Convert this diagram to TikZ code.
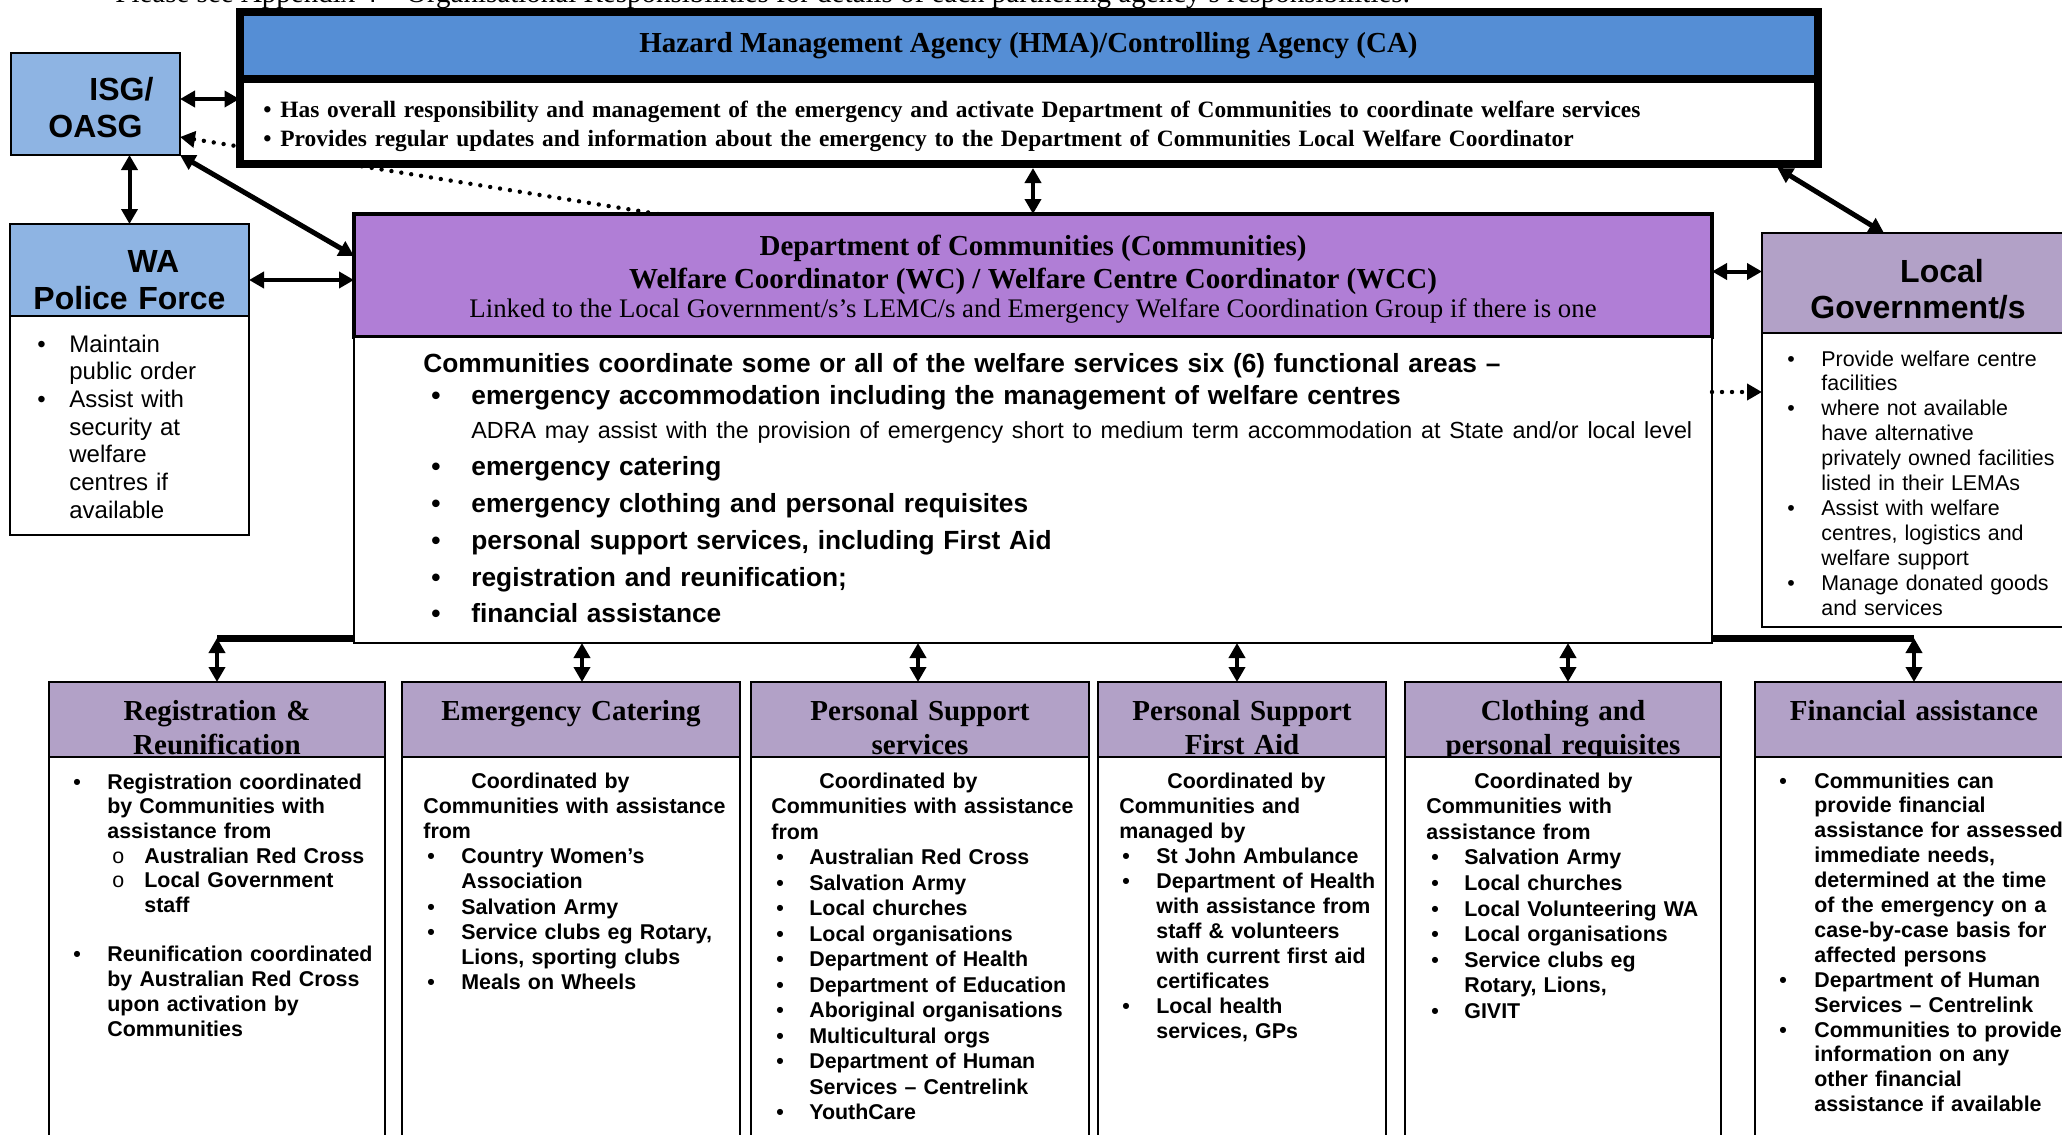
\documentclass[tikz,border=0pt]{standalone}
\usepackage{fontspec}
\setmainfont{Liberation Serif}
\setsansfont{Liberation Sans}
\usetikzlibrary{arrows.meta, positioning, calc, backgrounds}

\definecolor{hmablue}{RGB}{85,142,213}
\definecolor{isgblue}{RGB}{142,180,227}
\definecolor{commpurple}{RGB}{176,126,214}
\definecolor{lilac}{RGB}{178,161,199}

% bullet lists with a hanging indent
\newlength\bulin
\newlength\bulhang
\newcommand{\bul}[1]{\hangindent=\bulhang\hangafter=1\noindent\hspace*{\bulin}\makebox[\dimexpr\bulhang-\bulin\relax][l]{\textbullet}#1\par}
\newcommand{\subbul}[1]{\hangindent=35.5pt\hangafter=1\noindent\hspace*{19.5pt}\makebox[16pt][l]{\mdseries o}#1\par}

\tikzset{
    box/.style={rectangle, draw, line width=1pt, outer sep=0pt, inner sep=0pt, anchor=north west},
    headbox/.style={box, fill=lilac},
    bodybox/.style={box, fill=white},
    headtext/.style={anchor=base, inner sep=0pt, text width=200pt, align=center, font=\rmfamily\bfseries\fontsize{14.5}{17}\selectfont},
    sanshead/.style={anchor=base, inner sep=0pt, text width=200pt, align=center, font=\sffamily\bfseries\fontsize{16}{18.5}\selectfont},
    listtext/.style={anchor=base west, inner sep=0pt, text width=220pt},
    bodytext/.style={font=\sffamily\bfseries\fontsize{10.7}{#1}\selectfont},
    bullets/.style 2 args={execute at begin node={\setlength\bulin{#1}\setlength\bulhang{#2}}},
    dbl/.style={<->, >={Triangle[length=7.5pt,width=8pt]}, line width=2pt},
    dotarrow/.style={->, >={Triangle[length=7.5pt,width=8pt]}, line width=2.2pt, dash pattern=on 0pt off 5pt, line cap=round},
    busline/.style={line width=3.5pt}
}

\begin{document}
\begin{tikzpicture}[x=0.5pt, y=-0.5pt, font=\sffamily]
    \useasboundingbox (0,0) rectangle (2062,1135);

    % Line of text cut by the top edge
    \node (note) [anchor=base west, inner sep=0pt, font=\rmfamily\fontsize{14.5}{16}\selectfont] at (115,3) {Please see Appendix 4 – Organisational Responsibilities for details of each partnering agency’s responsibilities.};

    % Hazard Management Agency
    \node (hmahead) [box, line width=4pt, fill=hmablue, minimum width=789pt, minimum height=33.5pt, font=\rmfamily\bfseries\fontsize{14.5}{17}\selectfont] at (239.5,12) {Hazard Management Agency (HMA)/Controlling Agency (CA)};
    \node (hmabody) [box, line width=4pt, fill=white, minimum width=789pt, minimum height=42.5pt] at (hmahead.south west) {};
    \node (hmalist) [listtext, text width=800pt, bullets={0pt}{8.5pt}, font=\rmfamily\bfseries\fontsize{11.7}{14.5}\selectfont] at (263,117) {%
        \bul{Has overall responsibility and management of the emergency and activate Department of Communities to coordinate welfare services}%
        \bul{Provides regular updates and information about the emergency to the Department of Communities Local Welfare Coordinator}};

    % ISG/OASG
    \node (isg) [box, fill=isgblue, minimum width=84.5pt, minimum height=51pt] at (11,53) {};
    \node (isgtext) [sanshead] at ($(isg.north)+(0,47)$) {\hspace*{26pt}ISG/\\OASG};

    % WA Police Force
    \node (polhead) [box, fill=isgblue, minimum width=119.5pt, minimum height=46pt] at (10,224) {};
    \node (poltext) [sanshead] at ($(polhead.north)+(0,48)$) {\hspace*{24pt}WA\\Police Force};
    \node (polbody) [bodybox, minimum width=119.5pt, minimum height=109.5pt] at (polhead.south west) {};
    \node (pollist) [listtext, bullets={0pt}{16pt}, font=\sffamily\fontsize{12}{13.85}\selectfont] at (37,352) {%
        \bul{Maintain\newline public order}%
        \bul{Assist with\newline security at\newline welfare\newline centres if\newline available}};

    % Department of Communities
    \node (commhead) [box, line width=2pt, fill=commpurple, minimum width=679pt, minimum height=61.5pt] at (354,214) {};
    \node (commt1) [anchor=base, inner sep=0pt, font=\rmfamily\bfseries\fontsize{14.5}{17}\selectfont] at ($(commhead.north)+(0,41)$) {Department of Communities (Communities)};
    \node (commt2) [anchor=base, inner sep=0pt, font=\rmfamily\bfseries\fontsize{14.5}{17}\selectfont] at ($(commhead.north)+(0,74)$) {Welfare Coordinator (WC) / Welfare Centre Coordinator (WCC)};
    \node (commt3) [anchor=base, inner sep=0pt, font=\rmfamily\fontsize{13.4}{15}\selectfont] at ($(commhead.north)+(0,103)$) {Linked to the Local Government/s’s LEMC/s and Emergency Welfare Coordination Group if there is one};
    \node (commbody) [bodybox, line width=1.2pt, minimum width=679pt, minimum height=153pt] at (commhead.south west) {};
    \node (commlist) [listtext, text width=680pt, bullets={4pt}{24pt}, font=\sffamily\bfseries\fontsize{13.15}{18.4}\selectfont] at (423,372) {%
        Communities coordinate some or all of the welfare services six (6) functional areas –\par\vspace{-2pt}%
        \bul{emergency accommodation including the management of welfare centres}%
        {\mdseries\fontsize{11.66}{17}\selectfont\hspace*{24pt}ADRA may assist with the provision of emergency short to medium term accommodation at State and/or local level\par}%
        \bul{emergency catering}%
        \bul{emergency clothing and personal requisites}%
        \bul{personal support services, including First Aid}%
        \bul{registration and reunification;}%
        \bul{financial assistance}};

    % Local Government/s
    \node (lghead) [headbox, minimum width=156pt, minimum height=50pt] at (1762,233) {};
    \node (lgtext) [sanshead, font=\sffamily\bfseries\fontsize{16}{18}\selectfont] at ($(lghead.north)+(0,49)$) {\hspace*{24pt}Local\\Government/s};
    \node (lgbody) [bodybox, minimum width=156pt, minimum height=147pt] at (lghead.south west) {};
    \node (lglist) [listtext, bullets={0pt}{17pt}, font=\sffamily\fontsize{10.7}{12.45}\selectfont] at (1787,366) {%
        \bul{Provide welfare centre\newline facilities}%
        \bul{where not available\newline have alternative\newline privately owned facilities\newline listed in their LEMAs}%
        \bul{Assist with welfare\newline centres, logistics and\newline welfare support}%
        \bul{Manage donated goods\newline and services}};

    % The six functional areas
    \foreach \nm/\xx/\ww/\ttl in {reg/49/168/{Registration \&\\Reunification}, cat/402/169/{Emergency Catering}, pss/751/169/{Personal Support\\services}, psfa/1098/144/{Personal Support\\First Aid}, clo/1405/158/{Clothing and\\personal requisites}, fin/1755/159/{Financial assistance}}{
        \node (\nm head) [headbox, minimum width=\ww pt, minimum height=37.5pt] at (\xx,682) {};
        \node [headtext] at ($(\nm head.north)+(0,38)$) {\ttl};
        \node (\nm body) [bodybox, minimum width=\ww pt, minimum height=196.5pt] at (\nm head.south west) {};
    }

    \node (reglist) [listtext, bullets={0pt}{17pt}, bodytext=12.35pt] at (73,789) {%
        \bul{Registration coordinated\newline by Communities with\newline assistance from}%
        \subbul{Australian Red Cross}%
        \subbul{Local Government\newline staff}%
        \vspace{12.35pt}%
        \bul{Reunification coordinated\newline by Australian Red Cross\newline upon activation by\newline Communities}};
    \node (catlist) [listtext, bullets={2pt}{19pt}, bodytext=12.6pt] at (423,788) {%
        \hspace*{24pt}Coordinated by\newline Communities with assistance\newline from\par
        \bul{Country Women’s\newline Association}%
        \bul{Salvation Army}%
        \bul{Service clubs eg Rotary,\newline Lions, sporting clubs}%
        \bul{Meals on Wheels}};
    \node (psslist) [listtext, bullets={2.5pt}{19pt}, bodytext=12.75pt] at (771,788) {%
        \hspace*{24pt}Coordinated by\newline Communities with assistance\newline from\par
        \bul{Australian Red Cross}%
        \bul{Salvation Army}%
        \bul{Local churches}%
        \bul{Local organisations}%
        \bul{Department of Health}%
        \bul{Department of Education}%
        \bul{Aboriginal organisations}%
        \bul{Multicultural orgs}%
        \bul{Department of Human\newline Services – Centrelink}%
        \bul{YouthCare}};
    \node (psfalist) [listtext, bullets={1.5pt}{18.5pt}, bodytext=12.5pt] at (1119,788) {%
        \hspace*{24pt}Coordinated by\newline Communities and\newline managed by\par
        \bul{St John Ambulance}%
        \bul{Department of Health\newline with assistance from\newline staff \& volunteers\newline with current first aid\newline certificates}%
        \bul{Local health\newline services, GPs}};
    \node (clolist) [listtext, bullets={2.5pt}{19pt}, bodytext=12.8pt] at (1426,788) {%
        \hspace*{24pt}Coordinated by\newline Communities with\newline assistance from\par
        \bul{Salvation Army}%
        \bul{Local churches}%
        \bul{Local Volunteering WA}%
        \bul{Local organisations}%
        \bul{Service clubs eg\newline Rotary, Lions,}%
        \bul{GIVIT}};
    \node (finlist) [listtext, bullets={0pt}{17.5pt}, bodytext=12.45pt] at (1779,788) {%
        \bul{Communities can\newline provide financial\newline assistance for assessed\newline immediate needs,\newline determined at the time\newline of the emergency on a\newline case-by-case basis for\newline affected persons}%
        \bul{Department of Human\newline Services – Centrelink}%
        \bul{Communities to provide\newline information on any\newline other financial\newline assistance if available}};

    % Dotted link passing behind the HMA box
    \begin{scope}[on background layer]
        \fill[white] (0,0) rectangle (2062,1135);
        \coordinate (dotS) at ($(commhead.north west)+(304,0)$);
        \coordinate (dotE) at ($(isg.south east)+(0,-18)$);
        \draw[dotarrow] (dotS) -- (dotE);
    \end{scope}

    % Links round the top
    \coordinate (isgE) at ($(isg.east)+(0,-5)$);
    \draw[dbl] (isgE) -- (isgE -| hmahead.west);
    \draw[dbl] (isg.south -| polhead.north) -- (polhead.north);
    \draw[dbl, line width=2.5pt] (isg.south east) -- ($(commhead.north west)+(0,42)$);
    \coordinate (polE) at ($(polhead.east)+(0,10)$);
    \draw[dbl] (polE) -- (polE -| commhead.west);
    \coordinate (hmaS) at ($(hmabody.south)+(0,4)$);
    \draw[dbl] (commhead.north) -- (commhead.north |- hmaS);
    \draw[dbl, line width=2.5pt] ($(hmabody.south east)+(-40,4)$) -- ($(lghead.north)+(-34,0)$);
    \coordinate (commE) at ($(commhead.east)+(0,-4)$);
    \draw[dbl] (commE) -- (commE -| lghead.west);
    \coordinate (lgdot) at ($(lgbody.north west)+(0,59)$);
    \draw[dotarrow] (lgdot -| commbody.east) -- (lgdot);

    % Links down to the functional areas
    \coordinate (busL) at ($(reghead.north)+(0,-44)$);
    \coordinate (busR) at ($(finhead.north)+(0,-44)$);
    \draw[busline] (busL -| commbody.west) -- (busL);
    \draw[busline] (busR -| commbody.east) -- (busR);
    \draw[dbl] (busL) -- (reghead.north);
    \draw[dbl] (busR) -- (finhead.north);
    \foreach \nm/\dx in {cat/11, pss/-2, psfa/-5, clo/5}{
        \coordinate (top) at ($(\nm head.north)+(\dx,0)$);
        \draw[dbl] (top |- commbody.south) -- (top);
    }

\end{tikzpicture}
\end{document}
